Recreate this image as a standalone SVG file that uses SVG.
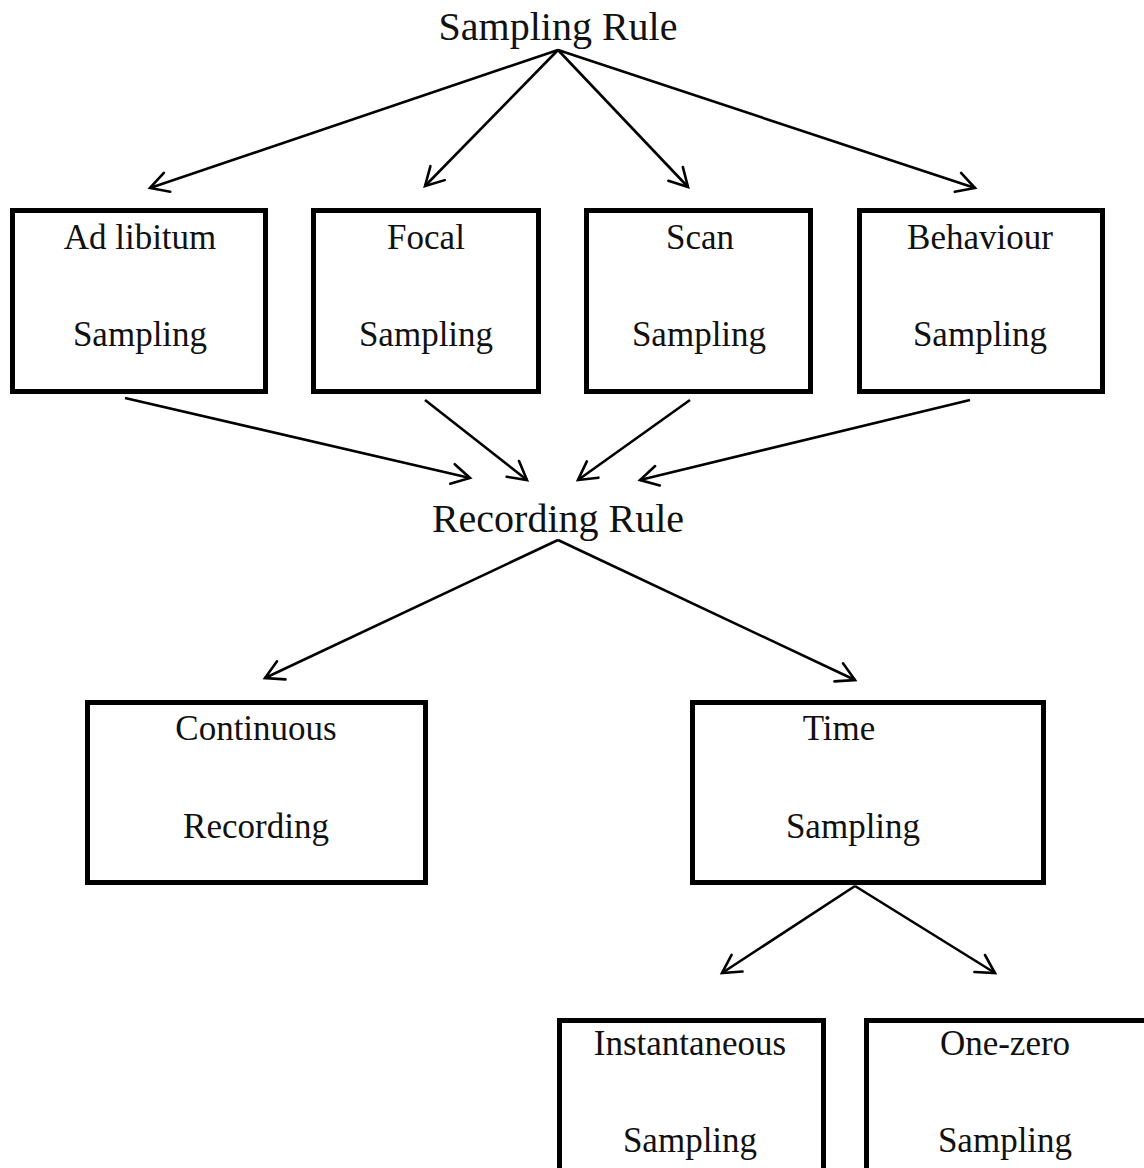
<svg xmlns="http://www.w3.org/2000/svg" width="1144" height="1168" viewBox="0 0 1144 1168">
<style>
.box{fill:#fff;stroke:#000;stroke-width:5}
.t{font-family:"Liberation Serif","Times New Roman",serif;font-size:35px;fill:#111;text-anchor:middle}
.rule{font-family:"Liberation Serif","Times New Roman",serif;font-size:40px;fill:#111;text-anchor:middle}
.c line{stroke:#000;stroke-width:2.6;fill:none;marker-end:url(#ah)}
</style>
<defs>
<marker id="ah" markerUnits="userSpaceOnUse" markerWidth="26" markerHeight="26" viewBox="0 0 26 26" refX="21" refY="13" orient="auto">
<path d="M3,3 L21,13 L3,23" fill="none" stroke="#000" stroke-width="2.6" stroke-linecap="round" stroke-linejoin="miter"/>
</marker>
</defs>
<rect width="1144" height="1168" fill="#fff"/>
<g id="sampling-rule"><text class="rule" x="558" y="40">Sampling Rule</text></g>
<g id="ad-libitum"><rect class="box" x="12.5" y="210.5" width="253" height="181"/><text class="t" x="140" y="249">Ad libitum</text><text class="t" x="140" y="346">Sampling</text></g>
<g id="focal"><rect class="box" x="313.5" y="210.5" width="225" height="181"/><text class="t" x="426" y="249">Focal</text><text class="t" x="426" y="346">Sampling</text></g>
<g id="scan"><rect class="box" x="586.5" y="210.5" width="224" height="181"/><text class="t" x="700" y="249">Scan</text><text class="t" x="699" y="346">Sampling</text></g>
<g id="behaviour"><rect class="box" x="859.5" y="210.5" width="243" height="181"/><text class="t" x="980" y="249">Behaviour</text><text class="t" x="980" y="346">Sampling</text></g>
<g id="recording-rule"><text class="rule" x="558" y="532">Recording Rule</text></g>
<g id="continuous"><rect class="box" x="87.5" y="702.5" width="338" height="180"/><text class="t" x="256" y="740">Continuous</text><text class="t" x="256" y="838">Recording</text></g>
<g id="time"><rect class="box" x="692.5" y="702.5" width="351" height="180"/><text class="t" x="839" y="740">Time</text><text class="t" x="853" y="838">Sampling</text></g>
<g id="instantaneous"><rect class="box" x="559.5" y="1020.5" width="264" height="160"/><text class="t" x="690" y="1055">Instantaneous</text><text class="t" x="690" y="1152">Sampling</text></g>
<g id="one-zero"><rect class="box" x="866.5" y="1020.5" width="300" height="160"/><text class="t" x="1005" y="1055">One-zero</text><text class="t" x="1005" y="1152">Sampling</text></g>
<g id="connectors" class="c">
<line x1="558" y1="50" x2="150" y2="188"/>
<line x1="558" y1="50" x2="425" y2="186"/>
<line x1="558" y1="50" x2="688" y2="187"/>
<line x1="558" y1="50" x2="975" y2="188"/>
<line x1="125" y1="398" x2="470" y2="478"/>
<line x1="425" y1="400" x2="527" y2="480"/>
<line x1="690" y1="400" x2="578" y2="480"/>
<line x1="970" y1="400" x2="640" y2="480"/>
<line x1="558" y1="540" x2="265" y2="678"/>
<line x1="558" y1="540" x2="855" y2="680"/>
<line x1="855" y1="886" x2="722" y2="973"/>
<line x1="855" y1="886" x2="995" y2="973"/>
</g>
</svg>
